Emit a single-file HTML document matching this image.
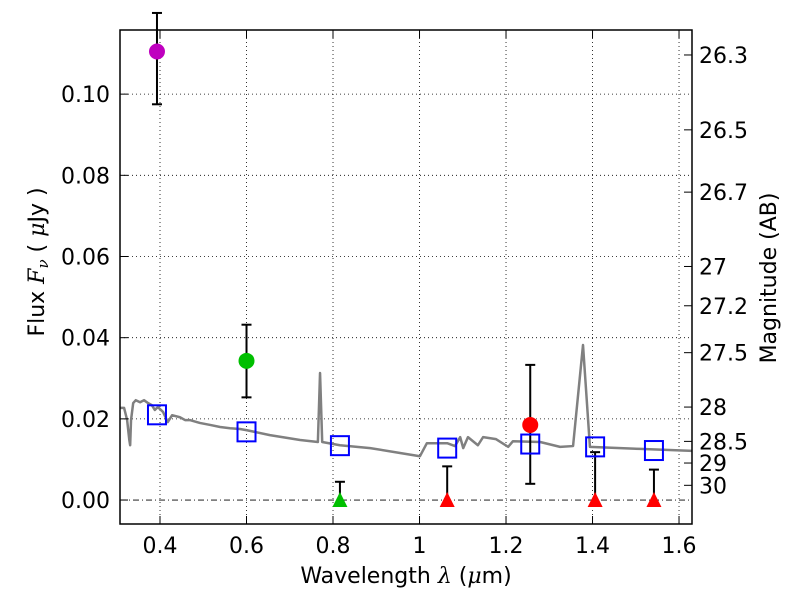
<!DOCTYPE html>
<html><head><meta charset="utf-8"><style>body{margin:0;background:#fff}svg{display:block;font-family:"DejaVu Sans","Liberation Sans",sans-serif}</style></head>
<body>
<svg id="c" width="800" height="600"></svg>
<script>
const specWave=[0.307,0.317,0.324,0.329,0.331,0.333,0.338,0.344,0.354,0.363,0.372,0.381,0.388,0.395,0.407,0.418,0.428,0.446,0.458,0.469,0.492,0.516,0.539,0.562,0.585,0.601,0.654,0.724,0.765,0.770,0.775,0.816,0.886,0.955,1.001,1.017,1.064,1.082,1.094,1.101,1.112,1.135,1.147,1.177,1.205,1.216,1.279,1.325,1.355,1.378,1.394,1.510,1.630];
const specFlux=[0.0227,0.0227,0.0197,0.0148,0.0135,0.0197,0.0239,0.0246,0.0241,0.0246,0.0239,0.0234,0.0222,0.0229,0.0217,0.0192,0.0209,0.0204,0.0197,0.0197,0.0190,0.0185,0.0180,0.0177,0.0175,0.0172,0.0160,0.0148,0.0143,0.0313,0.0143,0.0135,0.0128,0.0116,0.0108,0.0140,0.0140,0.0133,0.0155,0.0128,0.0155,0.0135,0.0155,0.0150,0.0131,0.0145,0.0143,0.0131,0.0133,0.0382,0.0131,0.0126,0.0121];
const detWave=[0.393,0.600,1.256];
const detFlux=[0.1105,0.0343,0.0185];
const detLo=[0.0975,0.0253,0.0040];
const detHi=[0.1200,0.0432,0.0333];
const detColor=["#bf00bf","#00bf00","#ff0000"];
const limWave=[0.816,1.064,1.406,1.542];
const limUp=[0.0045,0.0083,0.0118,0.0075];
const limColor=["#00bf00","#ff0000","#ff0000","#ff0000"];
const modWave=[0.393,0.600,0.816,1.064,1.256,1.406,1.542];
const modFlux=[0.0210,0.0168,0.0134,0.0128,0.0138,0.0131,0.0122];
const xTicks=[0.4,0.6,0.8,1.0,1.2,1.4,1.6];
const xTickLabels=["0.4","0.6","0.8","1","1.2","1.4","1.6"];
const yTicks=[0,0.02,0.04,0.06,0.08,0.10];
const yTickLabels=["0.00","0.02","0.04","0.06","0.08","0.10"];
const magTicks=[26.3,26.5,26.7,27,27.2,27.5,28,28.5,29,30];

const L=120,R=692,T=30,B=524,X0=0.3075,X1=1.63,Y0=-0.0059,Y1=0.1158;
const sx=v=>L+(v-X0)/(X1-X0)*(R-L);
const sy=v=>B-(v-Y0)/(Y1-Y0)*(B-T);
const NS="http://www.w3.org/2000/svg",svg=document.getElementById('c');
function mk(t,a,p){const e=document.createElementNS(NS,t);for(const k in a)e.setAttribute(k,a[k]);(p||svg).appendChild(e);return e;}
const grid=mk('g',{});


xTicks.forEach(v=>{mk('line',{x1:sx(v),x2:sx(v),y1:T,y2:B,stroke:'#000','stroke-width':0.8,'stroke-dasharray':'1,3'},grid);});
yTicks.forEach(v=>{mk('line',{x1:L,x2:R,y1:sy(v),y2:sy(v),stroke:'#000','stroke-width':0.8,'stroke-dasharray':v===0?'6,3,1,3':'1,3'},grid);});
const sp=mk('polyline',{points:specWave.map((w,i)=>sx(w)+','+sy(specFlux[i])).join(' '),fill:'none',stroke:'#808080','stroke-width':2.5,'stroke-linejoin':'round'});


function eb(x,lo,hi,name){const g=mk('g',{stroke:'#000','stroke-width':2});


mk('line',{x1:x,x2:x,y1:sy(lo),y2:sy(hi)},g);mk('line',{x1:x-5,x2:x+5,y1:sy(lo),y2:sy(lo)},g);mk('line',{x1:x-5,x2:x+5,y1:sy(hi),y2:sy(hi)},g);}
detWave.forEach((w,i)=>{eb(sx(w),detLo[i],detHi[i],'detection-errorbar');});
limWave.forEach((w,i)=>{const x=sx(w);const g=mk('g',{stroke:'#000','stroke-width':2});


mk('line',{x1:x,x2:x,y1:sy(0),y2:sy(limUp[i])},g);mk('line',{x1:x-5,x2:x+5,y1:sy(limUp[i]),y2:sy(limUp[i])},g);});
detWave.forEach((w,i)=>{const c=mk('circle',{cx:sx(w),cy:sy(detFlux[i]),r:8,fill:detColor[i]});

});
limWave.forEach((w,i)=>{const x=sx(w),y=sy(0);const p=mk('polygon',{points:`${x},${y-8} ${x-7.5},${y+7} ${x+7.5},${y+7}`,fill:limColor[i]});

});
modWave.forEach((w,i)=>{const r=mk('rect',{x:sx(w)-9,y:sy(modFlux[i])-9.5,width:18,height:19,fill:'none',stroke:'#0000ff','stroke-width':2});

});
const fr=mk('rect',{x:L,y:T,width:R-L,height:B-T,fill:'none',stroke:'#000','stroke-width':1.5});


xTicks.forEach((v,i)=>{mk('line',{x1:sx(v),x2:sx(v),y1:B,y2:B-8,stroke:'#000'});mk('line',{x1:sx(v),x2:sx(v),y1:T,y2:T+8,stroke:'#000'});
const t=mk('text',{x:sx(v),y:B+29,'font-size':22,'text-anchor':'middle'});t.textContent=xTickLabels[i];

});
yTicks.forEach((v,i)=>{mk('line',{x1:L,x2:L+8,y1:sy(v),y2:sy(v),stroke:'#000'});
const t=mk('text',{x:L-10,y:sy(v)+8,'font-size':22,'text-anchor':'end'});t.textContent=yTickLabels[i];

});
magTicks.forEach(m=>{const y=sy(Math.pow(10,(23.9-m)/2.5));mk('line',{x1:R,x2:R-8,y1:y,y2:y,stroke:'#000'});
const t=mk('text',{x:R+7,y:y+8,'font-size':22});t.textContent=String(m);

});
</script>
<svg width="800" height="600" style="position:absolute;left:0;top:0">
<text x="406" y="583" font-size="22" text-anchor="middle" font-family="DejaVu Sans,sans-serif">Wavelength  <tspan font-style="italic" font-family="DejaVu Serif,serif">λ</tspan> (<tspan font-style="italic" font-family="DejaVu Serif,serif">μ</tspan>m)</text>
<text transform="translate(44,262) rotate(-90)" font-size="22" text-anchor="middle" font-family="DejaVu Sans,sans-serif">Flux  <tspan font-style="italic" font-family="DejaVu Serif,serif">F<tspan font-size="15" dy="4">ν</tspan></tspan><tspan dy="-4">  ( </tspan><tspan font-style="italic" font-family="DejaVu Serif,serif">μ</tspan>Jy )</text>
<text transform="translate(776,278) rotate(-90)" font-size="22" text-anchor="middle" font-family="DejaVu Sans,sans-serif">Magnitude (AB)</text>
</svg>
</body></html>
